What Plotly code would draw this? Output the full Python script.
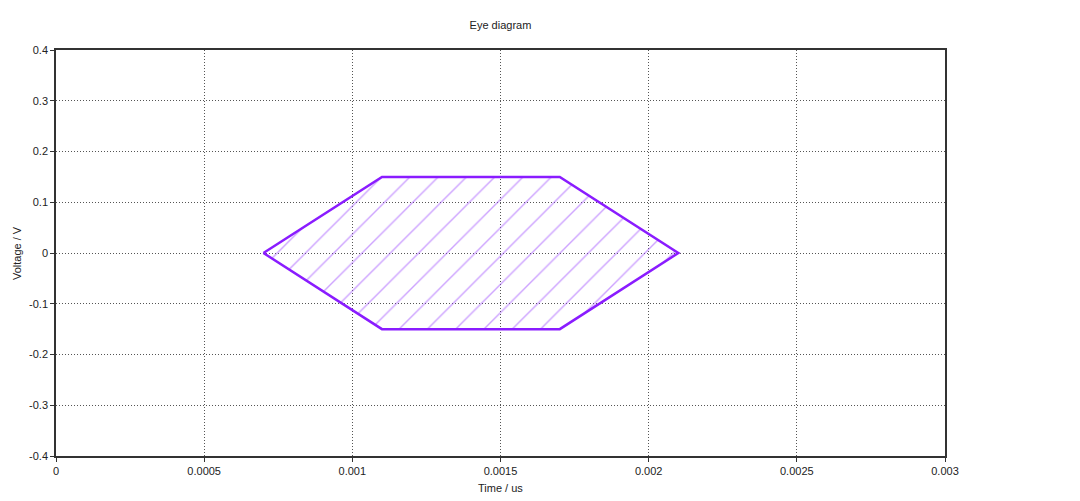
import plotly.graph_objects as go

# Eye mask polygon (time in us, voltage in V)
eye_time = [0.0007, 0.0011, 0.0017, 0.0021, 0.0017, 0.0011, 0.0007]
eye_voltage = [0.0, 0.15, 0.15, 0.0, -0.15, -0.15, 0.0]

x_ticks = [0, 0.0005, 0.001, 0.0015, 0.002, 0.0025, 0.003]
x_tick_labels = ["0", "0.0005", "0.001", "0.0015", "0.002", "0.0025", "0.003"]
y_ticks = [0.4, 0.3, 0.2, 0.1, 0, -0.1, -0.2, -0.3, -0.4]
y_tick_labels = ["0.4", "0.3", "0.2", "0.1", "0", "-0.1", "-0.2", "-0.3", "-0.4"]

FONT = "Liberation Sans"
TXT = "#222222"
W, H = 1080, 501
OFF = 8  # page body margin in the browser
# target plot box in page pixels: x 56..945, y 50..456
L, T = 56 - OFF, 50 - OFF
R = W - (945 - OFF)
B = H - (456 - OFF)
PW, PH = W - L - R, H - T - B

fig = go.Figure()
fig.add_trace(go.Scatter(
    x=eye_time, y=eye_voltage, mode="lines",
    line=dict(color="#8a1cff", width=2.5),
    fill="toself",
    fillcolor="rgba(0,0,0,0)",
    fillpattern=dict(shape="/", fgcolor="#9b45ff", bgcolor="rgba(255,255,255,0)",
                     size=20, solidity=0.07),
    showlegend=False, hoverinfo="skip",
))

axis_common = dict(
    showline=True, linecolor="#333333", linewidth=1.5, mirror=True,
    showgrid=True, gridcolor="#555555", griddash="1px,2px", gridwidth=1,
    zeroline=False, ticks="outside", ticklen=4, tickcolor="#333333",
    tickfont=dict(family=FONT, size=11, color=TXT),
    automargin=False,
)

fig.update_layout(
    width=W, height=H,
    margin=dict(l=L, r=R, t=T, b=B, autoexpand=False),
    paper_bgcolor="white", plot_bgcolor="white",
    title=dict(text="Eye diagram", x=(L + PW / 2) / W, xanchor="center",
               y=1 - (25 - OFF) / H, yanchor="middle",
               font=dict(family=FONT, size=11, color=TXT)),
    xaxis=dict(range=[0, 0.003], tickvals=x_ticks, ticktext=x_tick_labels,
               **axis_common),
    yaxis=dict(range=[-0.4, 0.4], tickvals=y_ticks, ticktext=y_tick_labels,
               **axis_common),
    annotations=[
        dict(text="Time / us", xref="paper", yref="paper",
             x=0.5, y=-(488 - 456) / PH,
             xanchor="center", yanchor="middle", showarrow=False,
             font=dict(family=FONT, size=11, color=TXT)),
        dict(text="Voltage / V", xref="paper", yref="paper",
             x=-(56 - 17) / PW, y=0.5, textangle=-90,
             xanchor="center", yanchor="middle", showarrow=False,
             font=dict(family=FONT, size=11, color=TXT)),
    ],
)

fig.write_html("out.html")
